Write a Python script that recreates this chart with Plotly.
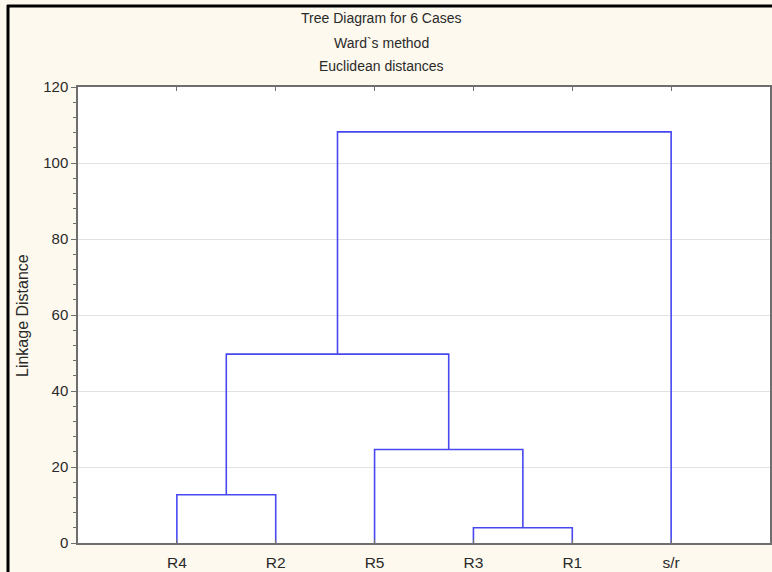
import plotly.graph_objects as go

# Leaf order along the x axis
leaves = ["R4", "R2", "R5", "R3", "R1", "s/r"]

# Agglomeration steps: (left member, right member, linkage distance)
merge_left = ["R4", "R3", "R5", "C1", "C4"]
merge_right = ["R2", "R1", "C2", "C3", "s/r"]
merge_height = [12.7, 4.0, 24.6, 49.7, 108.2]
merge_names = ["C1", "C2", "C3", "C4", "C5"]

y_ticks = [0, 20, 40, 60, 80, 100, 120]

title_lines = ["Tree Diagram for 6 Cases", "Ward`s method", "Euclidean distances"]

LINE_COLOR = "#4848f0"
AX_COLOR = "#6e6e6e"
TXT = "#2a2a2a"
FONT = "Liberation Sans, Arial, sans-serif"

# Node positions: leaves sit at 1..n, clusters sit midway above their members
pos = {name: (i + 1, 0.0) for i, name in enumerate(leaves)}

fig = go.Figure()
for a, b, h, name in zip(merge_left, merge_right, merge_height, merge_names):
    xa, ya = pos[a]
    xb, yb = pos[b]
    fig.add_trace(go.Scatter(
        x=[xa, xa, xb, xb], y=[ya, h, h, yb],
        mode="lines", line=dict(color=LINE_COLOR, width=1.6),
        hoverinfo="skip", showlegend=False,
    ))
    pos[name] = ((xa + xb) / 2, h)

# Plot-area geometry in pixels, used to place the title lines and frame
L, T, B, R, W, H = 78, 87, 29, 2, 772, 572
ph = H - T - B
pw = W - L - R

def py(ypix):
    return (H - B - ypix) / ph

def px(xpix):
    return (xpix - L) / pw

annotations = []
for line, ypix in zip(title_lines, [18, 43, 66]):
    annotations.append(dict(
        text=line, xref="paper", yref="paper", x=px(381), y=py(ypix),
        xanchor="center", yanchor="middle", showarrow=False,
        font=dict(size=14, color=TXT, family=FONT),
    ))
annotations.append(dict(
    text="Linkage Distance", xref="paper", yref="paper", x=px(22), y=py(316),
    xanchor="center", yanchor="middle", textangle=-90, showarrow=False,
    font=dict(size=16, color=TXT, family=FONT),
))

shapes = [
    dict(type="line", xref="paper", yref="paper", x0=px(8), x1=px(8),
         y0=py(5), y1=py(H + 2), line=dict(color="black", width=3)),
    dict(type="line", xref="paper", yref="paper", x0=px(7), x1=px(W + 2),
         y0=py(6), y1=py(6), line=dict(color="black", width=3)),
]

fig.update_layout(
    width=W, height=H,
    margin=dict(l=L, r=R, t=T, b=B, pad=0),
    paper_bgcolor="#fdf9ee",
    plot_bgcolor="white",
    font=dict(family=FONT, size=14, color=TXT),
    annotations=annotations,
    shapes=shapes,
)
fig.update_xaxes(
    range=[0, 7], tickmode="array", tickvals=list(range(1, len(leaves) + 1)),
    ticktext=leaves, showgrid=False, zeroline=False, automargin=False,
    showline=True, linecolor=AX_COLOR, linewidth=2, mirror="ticks",
    ticks="inside", ticklen=4, tickcolor=AX_COLOR, ticklabelstandoff=4,
    tickfont=dict(size=15.5, color=TXT),
)
fig.update_yaxes(
    range=[0, 120], tickmode="array", tickvals=y_ticks,
    showgrid=True, gridcolor="#e2e2e2", gridwidth=1, zeroline=False, automargin=False,
    showline=True, linecolor=AX_COLOR, linewidth=1.5, mirror="ticks",
    ticks="outside", ticklen=5, tickcolor=AX_COLOR,
    minor=dict(dtick=4, ticks="outside", ticklen=3, tickcolor=AX_COLOR, showgrid=False),
    tickfont=dict(size=15, color=TXT),
)

fig.write_html("out.html")
